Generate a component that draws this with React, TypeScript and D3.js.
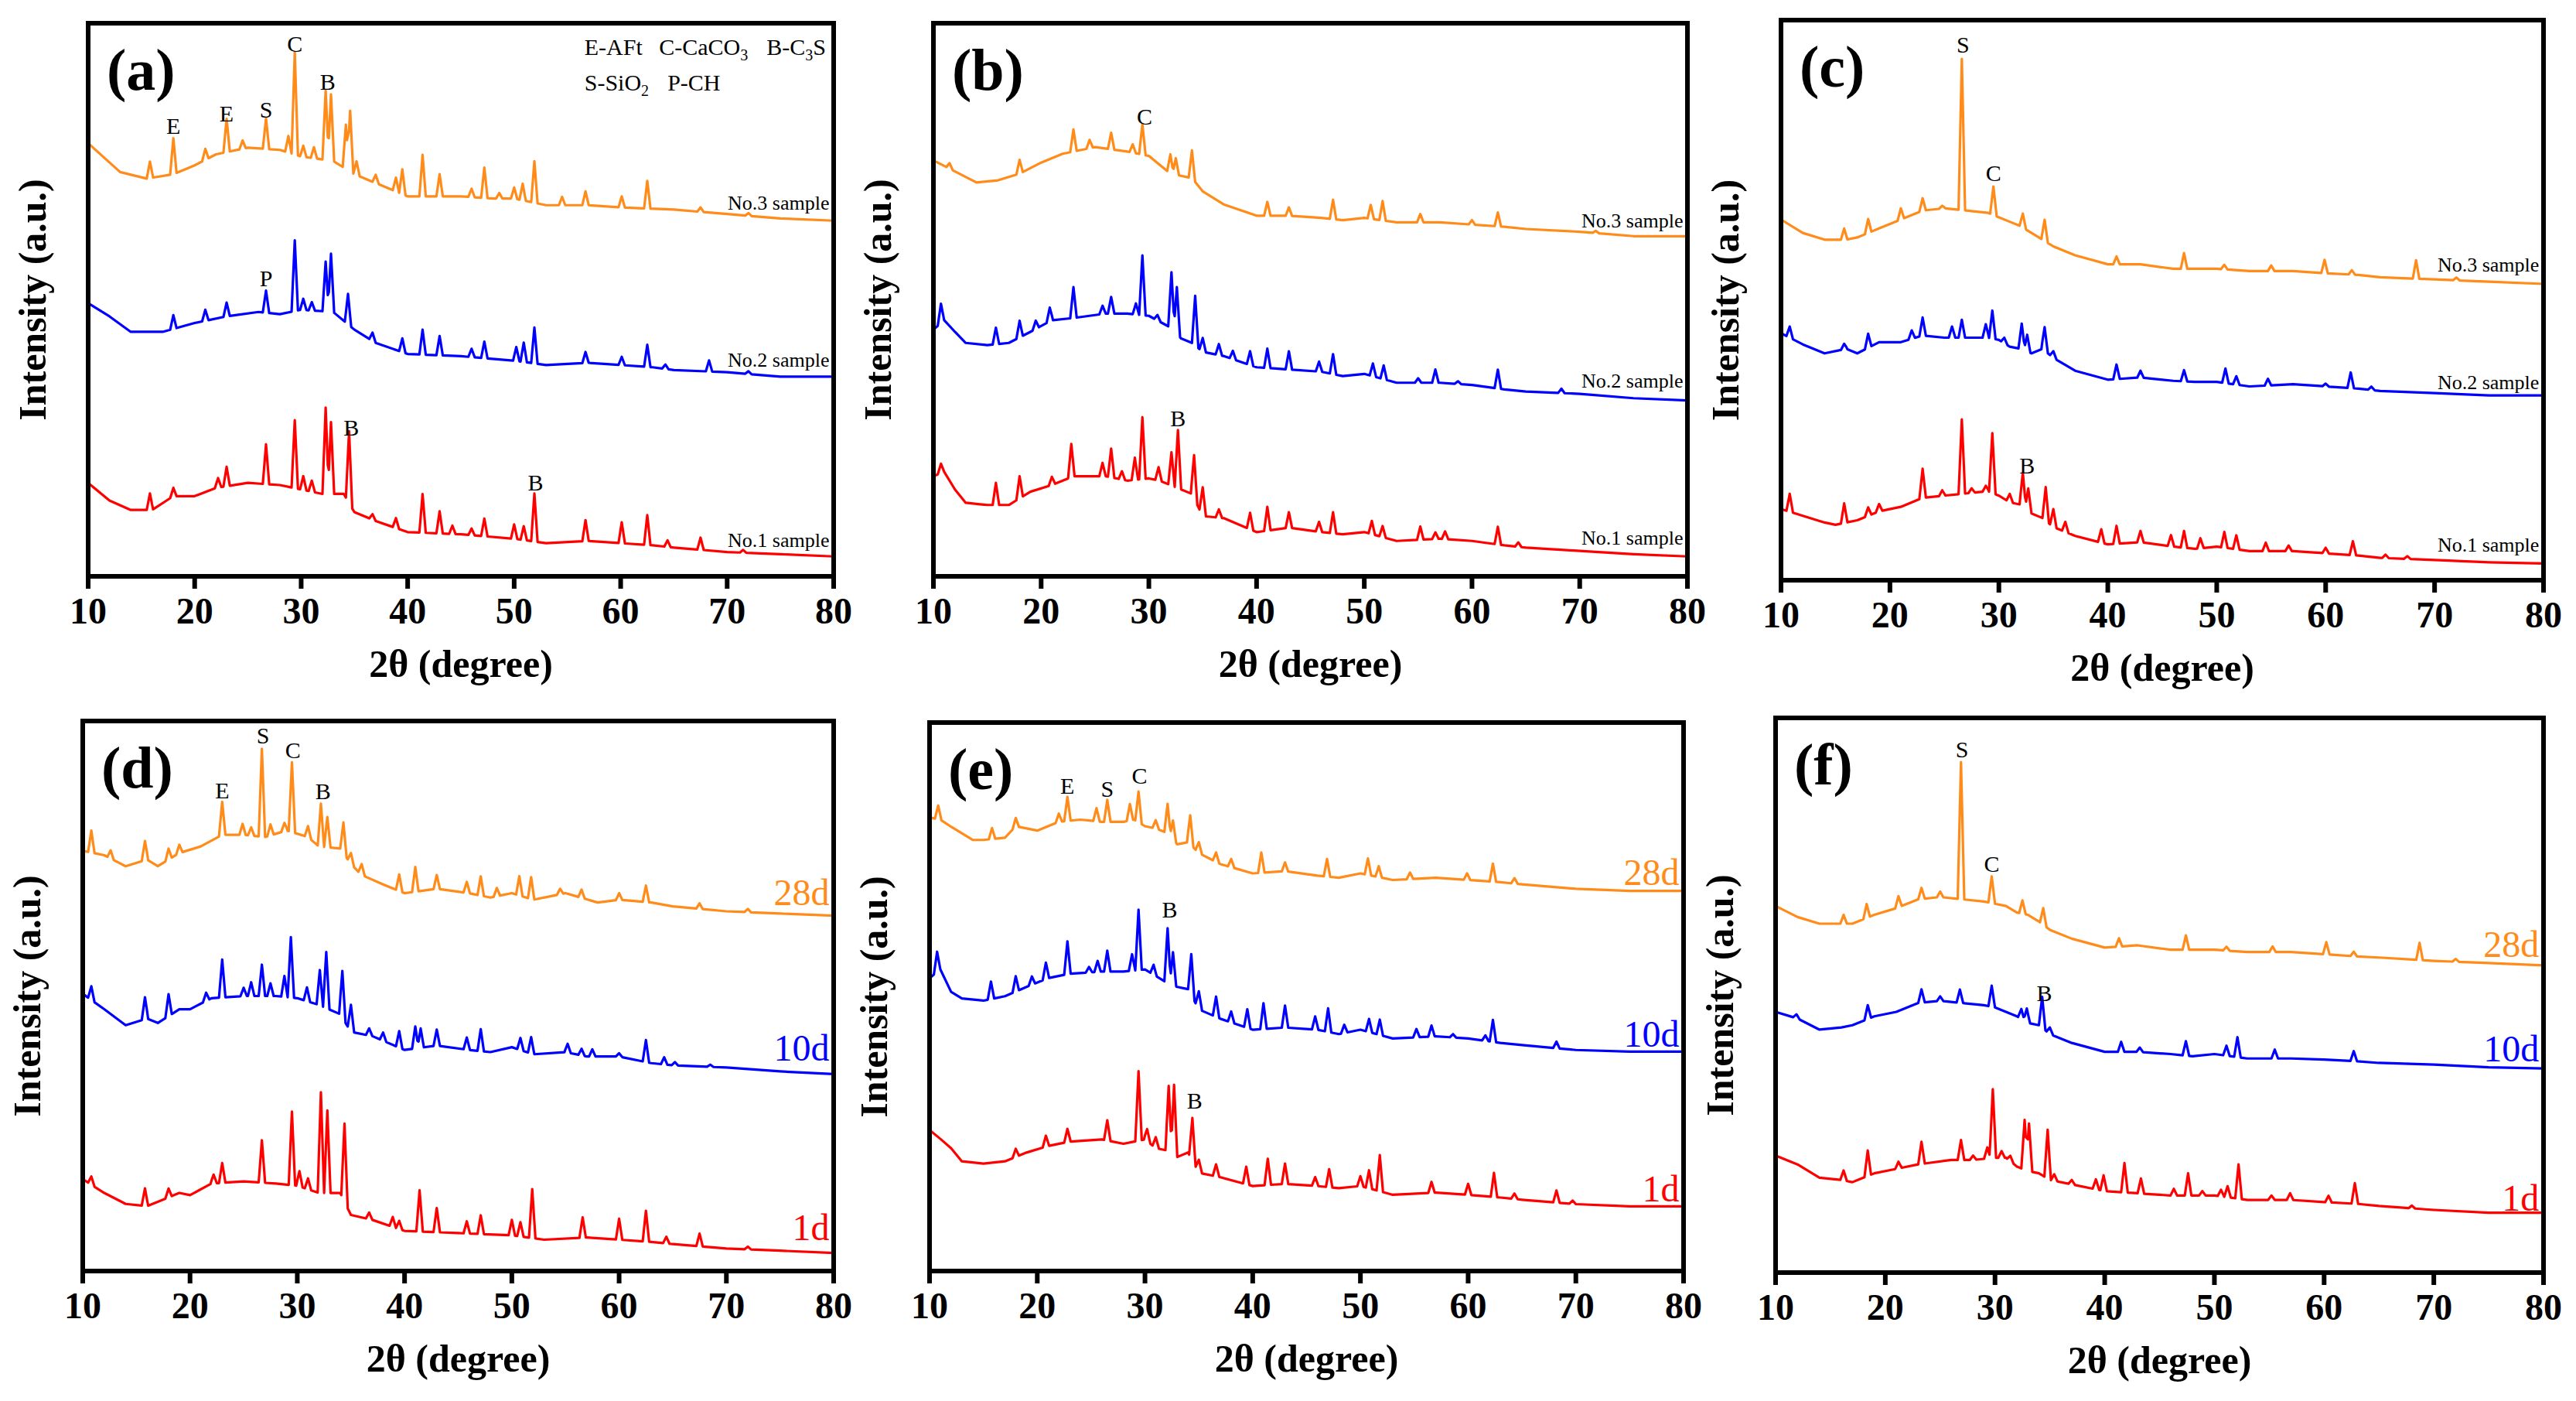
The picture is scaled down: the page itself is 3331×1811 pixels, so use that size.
import React from "react";
import * as d3 from "d3";

type P = [number, number];
const ORANGE = "#FF8C1A", BLUE = "#0000FF", RED = "#FF0000";
const xTicks = [10, 20, 30, 40, 50, 60, 70, 80];

// panel (a)
const a3B: P[] = [[10,78.3],[13,73.1],[15.5,71.9],[18,72.7],[20,74.3],[22,76.3],[25,77.5],[28,77.1],[30,75.9],[33,75.1],[35,72.7],[37,71.1],[40,68.7],[45,68.7],[48,68.3],[50,68.3],[53,67.1],[57,67.1],[60,66.7],[65,66.3],[70,65.5],[75,64.7],[80,64.3]];
const a3P: P[] = [[15.8,3],[18,6.5],[21,2],[23,6],[24.5,1.5],[26.7,5.5],[28.8,3],[29.4,18.5],[30.2,2],[31.2,2],[32.3,12.5],[32.8,12],[34.2,8],[34.6,11],[35.2,2.5],[37,1.5],[38.9,2.5],[39.5,4.5],[41.4,7.5],[43,4],[46,1.5],[47.2,5.5],[48.6,1],[50,2],[50.8,3],[51.9,7.5],[54.5,1.5],[56.7,2.5],[60.1,2],[62.5,5],[67.5,0.8],[72,0.5]];
const a2B: P[] = [[10,49.4],[12,47],[14,44.2],[17,44.2],[20,45.8],[23,47],[26,47.8],[28,47.4],[30,48.2],[33,47.8],[35,44.6],[37,42.2],[40,40.2],[45,39.8],[50,39],[53,38.2],[57,38.6],[60,38.2],[63,37.8],[65,37.3],[70,36.9],[75,36.1],[80,36.1]];
const a2P: P[] = [[18,2.5],[21,2],[23,2.5],[26.7,4],[29.4,12.8],[30.2,2],[31,1.5],[32.3,9],[32.8,10.5],[34.4,5.5],[36.7,1.5],[39.5,2.5],[41.4,4.5],[43,3.5],[46,1.5],[47.2,3],[50.2,2.5],[50.9,3.5],[51.9,6.5],[56.7,2],[60.1,1.5],[62.5,4],[64.2,0.8],[68.3,2],[72,0.5]];
const a1B: P[] = [[10,16.9],[12,13.7],[14,12],[16,12],[18,14.5],[20,14.5],[22,16],[25,16.9],[28,16.5],[30,15.7],[32,14.9],[34,14.9],[35,11.6],[37,10],[40,8],[45,7.6],[50,6.8],[53,6],[57,6.4],[60,6],[63,5.6],[65,5.2],[70,4.4],[75,4],[80,3.6]];
const a1P: P[] = [[15.8,3],[18,1.5],[22.2,1.7],[23,3.5],[26.7,7.2],[29.4,12.3],[30.2,2.5],[31,2],[32.3,15.6],[32.8,13],[34.5,13],[36.7,1],[38.9,1.8],[41.4,7],[43,4],[44.2,1.5],[46,1.2],[47.2,3.2],[50,2.6],[50.9,2.5],[51.9,8.7],[56.7,3.8],[60.1,3.8],[62.5,5.4],[64.4,1.2],[67.5,2.2],[71.5,0.5]];

// panel (b)
const b3B: P[] = [[10,75.2],[12,73.2],[14,71.2],[16,71.6],[18,72.8],[20,74.8],[22,76.4],[25,77.6],[28,76.8],[30,76],[31,74.4],[32,72.8],[34,72],[35,69.6],[37,67.2],[40,65.2],[43,65.2],[46,64.8],[48,64.4],[50,64.8],[53,64],[57,64],[60,63.6],[63,63.2],[65,62.8],[70,62.3],[75,61.5],[80,61.5]];
const b3P: P[] = [[11.5,1],[18,2.5],[23,4],[24.5,1.5],[26.5,3],[28.5,1.5],[29.4,5.5],[32,3.5],[32.5,3],[34,5],[41,2.5],[43,1.5],[47.1,3.5],[50.6,2.5],[51.7,3.5],[55.2,1.5],[60,0.8],[62.4,2.5],[71.5,0.4]];
const b2B: P[] = [[10,44.6],[11,46.3],[12,44.2],[13,42.2],[15,41.8],[17,42.2],[19,44.2],[21,46.3],[23,46.7],[26,47.5],[28,47.5],[30,47.1],[32,45],[33,43],[34,42.2],[35,40.6],[37,39.8],[40,37.8],[43,37.4],[46,37],[48,36.2],[50,36.6],[53,35],[57,35],[60,34.6],[63,33.8],[65,33.4],[70,33],[75,32.2],[80,31.8]];
const b2P: P[] = [[10.7,3.5],[15.8,3],[18,3],[19.5,1.5],[20.8,2.5],[23,5.6],[25.7,1.5],[26.5,3],[28.8,2],[29.4,10.8],[30.8,1],[32.1,10.2],[32.6,8.5],[34.3,9],[35,2.5],[36.5,2],[37.8,1.5],[39.4,2.5],[41,3.5],[43,3.3],[45.8,1.8],[47.1,3.6],[50.8,2.3],[51.8,2.5],[55,0.8],[56.6,2.4],[58.7,0.5],[62.4,3.4],[68.3,0.8]];
const b1B: P[] = [[10,18.1],[11,18.9],[12,15.7],[13,13.3],[15,12.9],[17,12.9],[19,15.3],[21,16.5],[23,18.1],[26,18.1],[28,17.3],[30,17.7],[31,17.3],[33,15.7],[34,14.9],[35,10.9],[37,10.5],[40,8],[43,8.8],[46,8],[48,7.6],[50,8],[53,6.4],[57,6.8],[60,6.4],[63,5.6],[65,5.2],[70,4.6],[75,4],[80,3.6]];
const b1P: P[] = [[10.7,1.7],[15.8,4],[18,4],[21,1.5],[22.8,6],[25.7,2.4],[26.5,5.2],[27.5,1.5],[28.7,4],[29.4,11.2],[30.9,2.4],[32.1,6],[32.7,10.5],[34.2,7.8],[35,5.2],[36.5,1.5],[39.4,3],[41,4.3],[43,2.8],[45.8,1.8],[47.1,3.8],[50.7,2.4],[51.7,2],[55.2,2.4],[56.6,1.2],[57.5,1.4],[62.4,3.2],[64.3,0.8]];

// panel (c)
const c3B: P[] = [[10,64.4],[12,62],[14,60.8],[16,60.8],[17,61.2],[19,62.8],[21,64.4],[23,66],[25,66.4],[27,66],[29,65.6],[31,64],[32,63.2],[33,62],[34,60.8],[35,59.6],[37,58],[40,56.4],[43,56.4],[46,55.6],[48,55.6],[50,55.6],[53,55.2],[57,55.2],[60,54.8],[63,54.5],[65,54.1],[70,53.7],[75,53.3],[80,52.9]];
const c3P: P[] = [[15.8,2],[18,2.5],[21,2],[23,2.2],[24.8,0.5],[26.6,27],[29.5,5.1],[32.2,2.5],[34.2,3.8],[40.8,1.4],[47,2.8],[50.7,0.8],[55,1],[59.9,2.4],[62.4,0.8],[68.3,3.3],[72,0.5]];
const c2B: P[] = [[10,44.1],[12,42.1],[14,40.5],[16,41.3],[17,40.5],[19,42.5],[21,42.5],[23,43.7],[25,43.3],[27,43.3],[29,43.3],[30,42.9],[31,41.7],[32,41.3],[33,40.5],[34,41.3],[35,39.7],[37,37.4],[40,35.8],[43,36.2],[46,35.6],[48,35.4],[50,35.4],[53,34.6],[57,35],[60,34.6],[63,34.2],[65,33.8],[70,33.4],[75,33],[80,33]];
const c2P: P[] = [[10.8,2],[15.8,1],[18,2.5],[22,1.5],[23,3.2],[25.7,2],[26.6,3.2],[28.8,2.4],[29.4,5],[30.5,1],[32.1,4.6],[32.6,3],[34.2,4.2],[35,1.2],[40.8,2.6],[43,1.2],[47,2],[50.8,2.6],[51.8,1.5],[54.7,1.2],[60,0.5],[62.3,2.8],[64.2,0.6]];
const c1B: P[] = [[10,12.7],[12,11.5],[14,10.3],[15,9.9],[17,10.7],[19,12.3],[21,13.1],[23,14.7],[25,15.1],[27,15.5],[29,15.9],[30,15.1],[31,13.9],[32,13.5],[33,11.9],[34,11.1],[35,9.5],[37,7.9],[40,6.4],[43,6.8],[46,6],[48,5.6],[50,6],[53,5.2],[57,5.2],[60,4.8],[63,4.4],[65,4],[70,3.6],[75,3.2],[80,3]];
const c1P: P[] = [[10.8,3.2],[15.8,3.5],[18,1.5],[19,1.3],[23,5.2],[24.8,1],[26.6,13.3],[27.5,0.8],[28.8,1],[29.4,10.7],[31,1.5],[32.2,6],[32.7,4],[34.3,6],[35,3.2],[36.1,1.8],[39.4,2.4],[40.8,3.2],[43,2],[45.8,2],[47,3],[48.5,1.8],[50.7,2.8],[51.8,2.5],[54.5,1.5],[56.6,1],[60,1],[62.5,2.5],[65.5,0.6],[67.5,0.5]];

// panel (d)
const d3B: P[] = [[10,76.4],[12,75.6],[14,73.6],[16,74.8],[17,73.6],[19,76],[21,77.2],[23,79.3],[25,79.3],[27,78.9],[29,80.1],[31,78.9],[32,77.2],[34,76.8],[35,74],[36,72],[38,70.3],[40,68.7],[43,69.5],[46,68.7],[48,67.9],[50,68.7],[52,67.5],[55,68.7],[58,67],[60,67.5],[63,67],[65,66.3],[70,65.4],[75,65],[80,64.6]];
const d3P: P[] = [[10.8,4],[12.6,1.5],[15.8,3.5],[18,2],[19,1.5],[23,6],[24.9,2],[25.7,1.5],[26.7,16],[27.5,2],[28.8,1.5],[29.5,12.7],[31,2],[32.2,7.8],[32.8,5.5],[34.3,5.6],[35,2],[36,2],[39.5,3],[41,4.5],[43,2.5],[45.8,2],[47.1,3.5],[48.6,1.5],[50.7,3.5],[51.8,4],[54.5,1],[56.5,1.5],[60,1.2],[62.5,3],[67.5,1],[72,0.6]];
const d2B: P[] = [[10,50.4],[12,47.6],[14,44.7],[16,45.9],[17,45.1],[19,47.6],[20,47.6],[22,49.6],[25,50],[28,50],[30,49.6],[32,48.4],[34,46.7],[35,43.5],[37,42.7],[40,40.2],[43,41],[46,40.2],[48,39.8],[50,40.7],[52,39.4],[55,39.8],[57,39],[60,39],[63,37.8],[65,37.4],[70,37],[75,36.3],[80,35.8]];
const d2P: P[] = [[10.8,2.5],[15.8,4],[18,4],[21.5,1.5],[23,6.9],[25,1.5],[25.7,2.5],[26.7,5.7],[27.5,2.3],[28.8,3.8],[29.4,11],[30.9,2.5],[32.1,6.4],[32.7,10.2],[34.2,8.5],[35,4.9],[36.7,1.3],[38,1.5],[39.5,3],[41,4],[41.5,3.5],[43,2.9],[45.8,2.2],[47.1,4],[50.8,2.2],[51.8,3],[55.2,1.6],[56.5,1.2],[57.5,1.3],[60,0.6],[62.5,4],[64.2,1.3],[65.2,0.6],[68.5,0.4]];
const d1B: P[] = [[10,16.7],[12,14.2],[14,12.2],[16,11.8],[17,12.6],[19,14.2],[20,13.8],[22,15.9],[25,16.3],[28,15.9],[30,15.5],[32,14.2],[34,14.2],[35,10.2],[37,9.3],[40,7.3],[45,6.9],[50,6.5],[53,5.7],[57,6.1],[60,5.7],[63,5.3],[65,4.9],[70,4.1],[75,3.7],[80,3.3]];
const d1P: P[] = [[10.8,1.5],[15.8,3.2],[18,1.6],[22.2,1.6],[23,3.6],[26.7,7.7],[29.5,13.4],[30.2,2.8],[31,2],[32.2,18.3],[32.8,15],[34.4,14.2],[36.7,1.2],[38.9,1.8],[39.5,1.5],[41.4,7.5],[43,4.4],[45.8,2.2],[47.1,3.4],[50,2.8],[50.8,2.6],[51.9,8.9],[56.6,3.7],[60,3.8],[62.5,5.6],[64.4,1.2],[67.5,2.3],[72,0.5]];

// panel (e)
const e3B: P[] = [[10,82.7],[11,82.3],[12,81],[14,78.6],[15,78.6],[17,79],[18,81.1],[20,80.3],[22,81.9],[24,82.3],[26,81.9],[28,81.9],[29,82.3],[30,81.1],[31,80.7],[32,79.9],[33,77.8],[34,78.2],[35,76.2],[37,74.2],[40,72.5],[43,72.9],[46,72.1],[48,71.7],[50,72.5],[53,71.3],[57,71.7],[60,71.3],[63,70.9],[65,70.5],[70,69.7],[75,69.3],[80,69.3]];
const e3P: P[] = [[10.8,2.5],[15.8,2],[18,1.5],[22,1.5],[22.8,4.4],[25.5,2.4],[26.5,4],[28.6,3],[29.4,5.6],[31,1.5],[32.1,5.5],[32.6,3.5],[34.2,5.3],[35,2],[36.6,1.7],[38,1.5],[40.8,3.7],[43,1.6],[46.9,3.2],[50.7,3],[51.7,2],[54.6,1.2],[59.9,1.2],[62.3,3.3],[64.3,1]];
const e2B: P[] = [[10,53.4],[11,55],[12,50.9],[13,49.7],[15,49.3],[17,50.1],[19,51.8],[21,53.4],[23,54.2],[26,54.6],[28,54.6],[30,55],[31,53.8],[32,52.6],[33,51.8],[34,51.4],[35,47.7],[37,46],[40,44],[43,44.4],[46,44],[48,43.2],[50,44],[53,42.4],[57,42.8],[60,42.4],[63,41.6],[65,41.2],[70,40.3],[75,40],[80,40]];
const e2P: P[] = [[10.7,3.7],[15.7,3.2],[18,2.8],[19.5,1.5],[20.8,3],[22.8,6],[24.8,1],[25.6,2],[26.5,3.8],[28.8,3],[29.4,11],[30.8,1.8],[32.1,10],[32.6,6],[34.3,7.5],[35,3.3],[36.6,3.7],[38,2],[39.5,3.4],[41,4.7],[43,4],[45.8,2.4],[47,4.3],[48.5,1.5],[50.8,2.4],[51.8,2.8],[55.2,1.5],[56.6,2],[58.6,0.6],[61.6,1],[62.3,4],[68.2,1.2]];
const e1B: P[] = [[10,25.7],[11,24.1],[12,22.4],[13,20],[15,19.6],[17,20],[19,21.6],[21,22.8],[23,23.6],[26,24],[28,23.2],[30,24],[31,22.4],[32,22],[33,20.8],[34,21.6],[35,17.9],[37,17.1],[40,15.5],[43,15.9],[46,15.5],[48,15.1],[50,15.5],[53,13.9],[57,14.3],[60,13.9],[63,13.4],[65,13],[70,12.2],[75,11.8],[80,11.8]];
const e1P: P[] = [[18,1.5],[20.8,2],[22.8,2.4],[26.5,3.7],[29.4,12.7],[30.2,2.2],[31,2],[32.2,12],[32.7,12.8],[34.4,7.8],[35,2.4],[36.6,2.2],[39.4,3.2],[41.4,4.8],[43,3.7],[45.8,1.6],[47.1,3.3],[50,1.8],[50.8,3.3],[51.8,6.6],[56.6,2],[60,2],[62.4,4.4],[64.3,1],[68.2,2.2],[69.7,0.6]];

// panel (f)
const f3B: P[] = [[10,66.1],[12,64.1],[14,62.9],[16,62.9],[17,62.9],[19,64.5],[21,65.7],[23,67.3],[25,67.7],[27,67.3],[29,66.9],[31,66.1],[32,64.9],[33,64.5],[34,63.3],[35,61.8],[37,60.2],[40,58.6],[43,59],[46,58.2],[48,58.2],[50,58.2],[53,57.8],[57,57.8],[60,57.4],[63,57],[65,56.8],[70,56.2],[75,55.8],[80,55.4]];
const f3P: P[] = [[16.2,1.6],[18.3,2.5],[21.2,2],[23.3,2],[25,1],[26.9,24.7],[29.7,4.8],[32.5,2.4],[34.4,3],[41.3,1.5],[47.4,2.6],[51.1,0.7],[55.3,1],[60.2,2.2],[62.7,0.8],[68.7,3.1],[72,0.5]];
const f2B: P[] = [[10,47],[12,45.8],[14,43.8],[16,44.2],[17,44.6],[19,46.2],[21,47],[23,48.6],[25,49],[27,48.6],[29,48.2],[30,47.8],[31,47],[32,46.2],[33,45],[34,44.6],[35,43],[37,41.4],[40,39.8],[43,39.8],[46,39.4],[48,39],[50,39.4],[53,38.6],[57,38.6],[60,38.4],[63,38.1],[65,37.8],[70,37.5],[75,37],[80,36.8]];
const f2P: P[] = [[11.9,0.7],[18.4,2.5],[23.3,2.4],[25,0.8],[26.8,2.4],[29.7,3.8],[32.4,1.8],[32.9,2.5],[34.3,5.6],[35,1.2],[41.5,1.8],[43.2,0.8],[47.4,2.6],[51.1,1.8],[52.1,3.6],[55.5,1.6],[62.7,1.8]];
const f1B: P[] = [[10,21.1],[12,19.5],[14,17.1],[16,16.7],[17,16.3],[19,17.9],[21,18.7],[23,19.5],[26,20.3],[28,20.3],[30,20.7],[31,20.7],[32,19.1],[33,18.3],[34,17.9],[35,16.7],[37,15.9],[40,14.7],[43,14.3],[46,13.9],[48,13.9],[50,13.9],[53,13.1],[57,13.1],[60,12.7],[63,12.4],[65,12],[70,11.3],[75,10.8],[80,10.8]];
const f1P: P[] = [[16.2,1.8],[18.4,4.6],[21.2,1.2],[23.3,4],[26.9,3.6],[28,0.8],[29.3,2],[29.8,12.4],[30.6,1.2],[31.4,1],[32.7,9],[33.1,8.6],[34.8,8.8],[35.4,1.2],[37,0.8],[39.2,1.8],[39.9,2.8],[41.8,5.3],[43.3,2.7],[46.3,1.2],[47.6,4],[48.9,0.8],[50.6,1.2],[51.2,2],[52.2,6.2],[55.2,0.8],[56.9,1.2],[60.4,1.2],[62.8,3.7],[68,0.5]];

type Ann = [string, number, number];
const annA: Ann[] = [["E",18,81.4],["E",23,83.7],["S",26.7,84.3],["C",29.4,96.2],["B",32.5,89.4],["P",26.7,53.8],["B",34.7,26.9],["B",52,16.9]];
const annB: Ann[] = [["C",29.6,83.1],["B",32.7,28.6]];
const annC: Ann[] = [["S",26.7,95.6],["C",29.5,72.7],["B",32.6,20.4]];
const annD: Ann[] = [["E",23,87.4],["S",26.8,97.3],["C",29.6,94.6],["B",32.4,87.2]];
const annE: Ann[] = [["E",22.8,88.4],["S",26.5,87.9],["C",29.5,90.3],["B",32.3,65.8],["B",34.6,31.1]];
const annF: Ann[] = [["S",27,94.3],["C",29.7,73.7],["B",34.5,50.4]];
const labNo: string[] = ["No.3 sample", "No.2 sample", "No.1 sample"];
const labDay: string[] = ["28d", "10d", "1d"];
const labYA = [67.6, 39.1, 6.6], labYB = [64.4, 35.4, 7], labYC = [56.3, 35.4, 6.4];
const labYD = [68.7, 40.4, 7.7], labYE = [72.5, 43, 14.8], labYF = [59, 40.1, 13.3];

const serif = "Liberation Serif";

function tracePoints(base: P[], peaks: P[]): P[] {
  const bs = d3.scaleLinear().domain(base.map(p => p[0])).range(base.map(p => p[1]));
  const w = 0.3;
  const xs = new Set<number>(base.map(p => p[0]));
  peaks.forEach(([p]) => { xs.add(+(p - w).toFixed(3)); xs.add(p); xs.add(+(p + w).toFixed(3)); });
  const arr = Array.from(xs).filter(x => x >= 10 && x <= 80).sort((a, b) => a - b);
  return arr.map(x => {
    let add = 0;
    peaks.forEach(([p, h]) => { const t = 1 - Math.abs(x - p) / w; if (t > 0) add = Math.max(add, h * t); });
    return [x, bs(x) + add] as P;
  });
}

interface PanelProps {
  L: number; R: number; T: number; B: number; tag: string;
  traces: { b: P[]; p: P[]; c: string }[];
  ann: Ann[]; labels: string[]; labY: number[]; dayStyle: boolean; legend?: boolean;
}

function Panel({ L, R, T, B, tag, traces, ann, labels, labY, dayStyle, legend }: PanelProps) {
  const x = d3.scaleLinear().domain([10, 80]).range([L, R]);
  const y = d3.scaleLinear().domain([0, 100]).range([B, T]);
  const line = d3.line<P>().x(d => x(d[0])).y(d => y(d[1]));
  const cy = (T + B) / 2;
  const st = { fontFamily: serif };
  return (
    <g>
      {traces.map((t, i) => (
        <path key={i} d={line(tracePoints(t.b, t.p)) || ""} fill="none" stroke={t.c} strokeWidth={3.2} strokeLinejoin="round" />
      ))}
      <rect x={L} y={T} width={R - L} height={B - T} fill="none" stroke="#000" strokeWidth={6} />
      {xTicks.map(v => (
        <g key={v}>
          <line x1={x(v)} x2={x(v)} y1={B} y2={B + 16} stroke="#000" strokeWidth={6} />
          <text x={x(v)} y={B + 61} textAnchor="middle" fontSize={48} fontWeight="bold" style={st}>{v}</text>
        </g>
      ))}
      <text x={(L + R) / 2} y={B + 130} textAnchor="middle" fontSize={50} fontWeight="bold" style={st}>2θ (degree)</text>
      <text transform={`translate(${L - 55},${cy}) rotate(-90)`} textAnchor="middle" fontSize={50} fontWeight="bold" style={st}>Intensity (a.u.)</text>
      <text x={L + 24} y={T + 86} fontSize={76} fontWeight="bold" style={st}>{tag}</text>
      {ann.map(([s, p, v], i) => (
        <text key={i} x={x(p)} y={y(v) + 10} textAnchor="middle" fontSize={30} style={st}>{s}</text>
      ))}
      {labels.map((s, i) => (
        <text key={s} x={x(79.6)} y={y(labY[i]) + (dayStyle ? 15 : 9)} textAnchor="end" style={st}
          fontSize={dayStyle ? 48 : 26} fill={dayStyle ? traces[i].c : "#000"}>{s}</text>
      ))}
      {legend && (
        <g fontSize={30}>
          <text x={x(56.6)} y={y(95.6) + 10} style={st}>E-AFt</text>
          <text x={x(63.6)} y={y(95.6) + 10} style={st}>C-CaCO<tspan fontSize={20} dy={7}>3</tspan></text>
          <text x={x(73.7)} y={y(95.6) + 10} style={st}>B-C<tspan fontSize={20} dy={7}>3</tspan><tspan dy={-7}>S</tspan></text>
          <text x={x(56.6)} y={y(89.3) + 10} style={st}>S-SiO<tspan fontSize={20} dy={7}>2</tspan></text>
          <text x={x(64.4)} y={y(89.3) + 10} style={st}>P-CH</text>
        </g>
      )}
    </g>
  );
}

export default function App() {
  const tr = (b3: P[], p3: P[], b2: P[], p2: P[], b1: P[], p1: P[]) => [
    { b: b3, p: p3, c: ORANGE }, { b: b2, p: p2, c: BLUE }, { b: b1, p: p1, c: RED },
  ];
  return (
    <svg width={3331} height={1811} style={{ position: "absolute", left: 0, top: 0, background: "#fff" }}>
      <rect width={3331} height={1811} fill="#fff" />
      <Panel L={114} R={1078} T={30} B={745} tag="(a)" traces={tr(a3B, a3P, a2B, a2P, a1B, a1P)} ann={annA} labels={labNo} labY={labYA} dayStyle={false} legend />
      <Panel L={1207} R={2182} T={30} B={745} tag="(b)" traces={tr(b3B, b3P, b2B, b2P, b1B, b1P)} ann={annB} labels={labNo} labY={labYB} dayStyle={false} />
      <Panel L={2303} R={3289} T={26} B={750} tag="(c)" traces={tr(c3B, c3P, c2B, c2P, c1B, c1P)} ann={annC} labels={labNo} labY={labYC} dayStyle={false} />
      <Panel L={107} R={1078} T={932} B={1643} tag="(d)" traces={tr(d3B, d3P, d2B, d2P, d1B, d1P)} ann={annD} labels={labDay} labY={labYD} dayStyle />
      <Panel L={1202} R={2177} T={934} B={1643} tag="(e)" traces={tr(e3B, e3P, e2B, e2P, e1B, e1P)} ann={annE} labels={labDay} labY={labYE} dayStyle />
      <Panel L={2296} R={3289} T={928} B={1645} tag="(f)" traces={tr(f3B, f3P, f2B, f2P, f1B, f1P)} ann={annF} labels={labDay} labY={labYF} dayStyle />
    </svg>
  );
}
